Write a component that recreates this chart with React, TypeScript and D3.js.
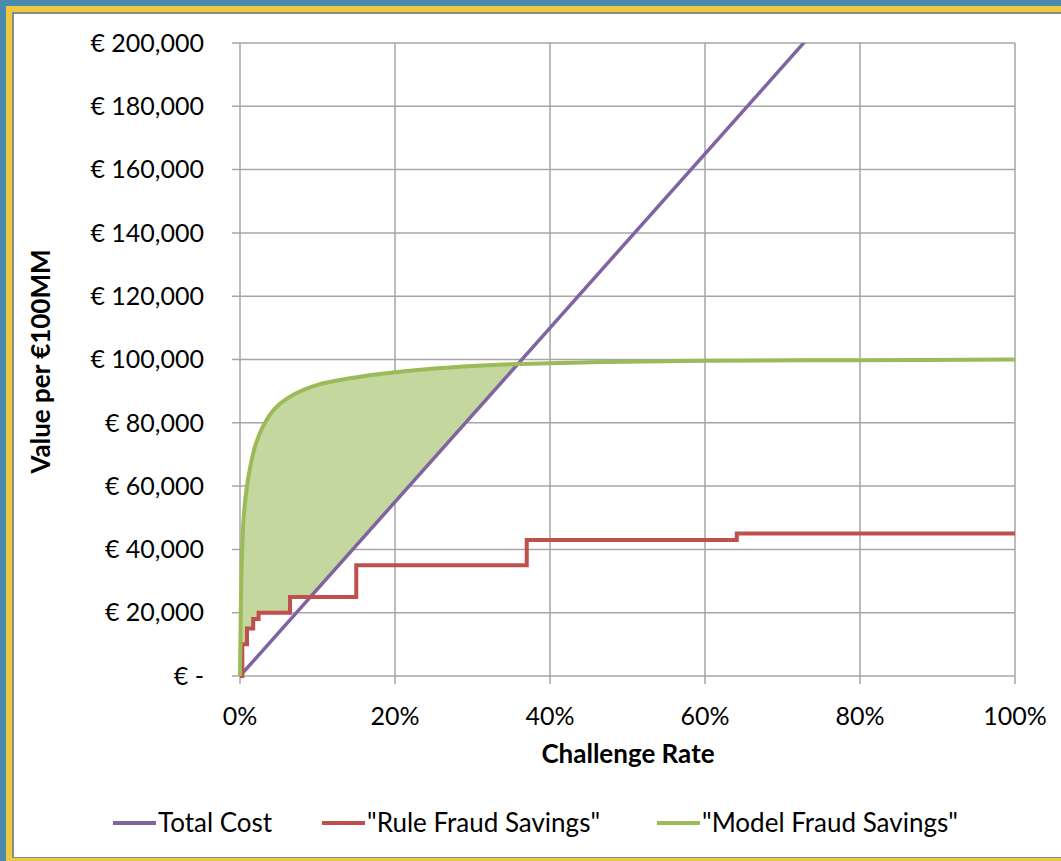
import React from 'react';
import * as d3 from 'd3';

// challenge rate (fraction) vs value per €100MM
const costPoints: [number, number][] = [
  [0, 0],
  [1, 275000],
];

const rulePoints: [number, number][] = [
  [0, 0],
  [0.003, 10000],
  [0.009, 15000],
  [0.017, 18000],
  [0.024, 20000],
  [0.0645, 25000],
  [0.15, 35000],
  [0.37, 43000],
  [0.641, 45000],
  [1, 45000],
];

const modelPoints: [number, number][] = [
  [0, 0],
  [0.001, 20000],
  [0.0025, 38000],
  [0.005, 51000],
  [0.009, 60000],
  [0.014, 67000],
  [0.02, 73000],
  [0.03, 79000],
  [0.045, 84500],
  [0.07, 89000],
  [0.1, 92000],
  [0.14, 94000],
  [0.2, 96000],
  [0.27, 97500],
  [0.35, 98500],
  [0.45, 99100],
  [0.6, 99600],
  [0.8, 99800],
  [1, 100000],
];

const yTicks = [0, 20000, 40000, 60000, 80000, 100000, 120000, 140000, 160000, 180000, 200000];
const xTicks = [0, 0.2, 0.4, 0.6, 0.8, 1];

const legendItems = [
  { label: 'Total Cost', color: '#8064a2', x: 113 },
  { label: '"Rule Fraud Savings"', color: '#c0504d', x: 322 },
  { label: '"Model Fraud Savings"', color: '#9bbb59', x: 657 },
];

const W = 1061;
const H = 861;
const margin = { left: 240, right: 46, top: 43, bottom: 185 };
const font = 'Lato, "Open Sans", sans-serif';

export default function App() {
  const x = d3.scaleLinear().domain([0, 1]).range([margin.left, W - margin.right]);
  const y = d3.scaleLinear().domain([0, 200000]).range([H - margin.bottom, margin.top]);
  const [x0, x1] = x.range();
  const [yb, yt] = y.range();

  const line = d3
    .line<[number, number]>()
    .x((d) => x(d[0]))
    .y((d) => y(d[1]));
  const costPath = line(costPoints) || '';
  const rulePath = line.curve(d3.curveStepAfter)(rulePoints) || '';
  const smooth = d3
    .line<[number, number]>()
    .x((d) => x(d[0]))
    .y((d) => y(d[1]))
    .curve(d3.curveCatmullRom.alpha(0.5));
  const modelPath = smooth(modelPoints) || '';

  // regions for clipping the shaded band
  const aboveCost =
    d3
      .area<[number, number]>()
      .x((d) => x(d[0]))
      .y0(0)
      .y1((d) => y(d[1]))(costPoints) || '';
  const aboveRule =
    d3
      .area<[number, number]>()
      .x((d) => x(d[0]))
      .y0(0)
      .y1((d) => y(d[1]))
      .curve(d3.curveStepAfter)(rulePoints) || '';
  const underModel =
    d3
      .area<[number, number]>()
      .x((d) => x(d[0]))
      .y0(yb)
      .y1((d) => y(d[1]))
      .curve(d3.curveCatmullRom.alpha(0.5))(modelPoints) || '';

  const grid = '#a6a6a6';

  return (
    <div style={{ position: 'absolute', left: 0, top: 0 }}>
      <svg width={W} height={H} style={{ display: 'block' }}>
        <defs>
          <clipPath id="plot">
            <rect x={x0} y={yt} width={x1 - x0} height={yb - yt} />
          </clipPath>
          <clipPath id="aboveCost">
            <path d={aboveCost} />
          </clipPath>
          <clipPath id="aboveRule">
            <path d={aboveRule} />
          </clipPath>
        </defs>
        <rect x={0} y={0} width={W} height={H} fill="#4a8bab" />
        <rect x={6} y={6} width={W} height={H} fill="#eec843" />
        <rect x={12} y={12} width={W} height={H - 15} fill="#8a8a8a" />
        <rect x={14} y={14} width={W} height={H - 18} fill="#ffffff" />

        {/* gridlines */}
        {yTicks.map((t) => (
          <line key={'gy' + t} x1={x0 - 8} x2={x1} y1={y(t)} y2={y(t)} stroke={grid} strokeWidth={1.5} />
        ))}
        {xTicks.map((t) => (
          <line key={'gx' + t} x1={x(t)} x2={x(t)} y1={yt} y2={yb + 8} stroke={grid} strokeWidth={1.5} />
        ))}

        {/* shaded band */}
        <g clipPath="url(#aboveCost)">
          <g clipPath="url(#aboveRule)">
            <path d={underModel} fill="#c4d79e" />
          </g>
        </g>

        <g clipPath="url(#plot)">
          <path d={costPath} fill="none" stroke="#8064a2" strokeWidth={3.5} />
        </g>
        <path d={rulePath} fill="none" stroke="#c0504d" strokeWidth={4} />
        <path d={modelPath} fill="none" stroke="#9bbb59" strokeWidth={4} />

        {/* y tick labels */}
        {yTicks.map((t) => (
          <text
            key={'ly' + t}
            x={204}
            y={y(t)}
            dy="0.35em"
            textAnchor="end"
            fontFamily={font}
            fontSize={25}
            fill="#000"
          >
            {t === 0 ? '€ -' : '€ ' + d3.format(',')(t)}
          </text>
        ))}
        {/* x tick labels */}
        {xTicks.map((t) => (
          <text
            key={'lx' + t}
            x={x(t)}
            y={725}
            textAnchor="middle"
            fontFamily={font}
            fontSize={25}
            fill="#000"
          >
            {d3.format('.0%')(t)}
          </text>
        ))}

        <text
          x={628}
          y={763}
          textAnchor="middle"
          fontFamily={font}
          fontWeight="bold"
          fontSize={26}
          fill="#000"
        >
          Challenge Rate
        </text>
        <text
          transform={`translate(50,${(yb + yt) / 2 + 2}) rotate(-90)`}
          textAnchor="middle"
          fontFamily={font}
          fontWeight="bold"
          fontSize={26}
          fill="#000"
        >
          Value per €100MM
        </text>

        {/* legend */}
        {legendItems.map((d) => (
          <g key={d.label} transform={`translate(${d.x},823)`}>
            <line x1={0} x2={43} y1={0} y2={0} stroke={d.color} strokeWidth={4} />
            <text x={45} y={0} dy="0.35em" fontFamily={font} fontSize={26} fill="#000">
              {d.label}
            </text>
          </g>
        ))}
      </svg>
    </div>
  );
}
